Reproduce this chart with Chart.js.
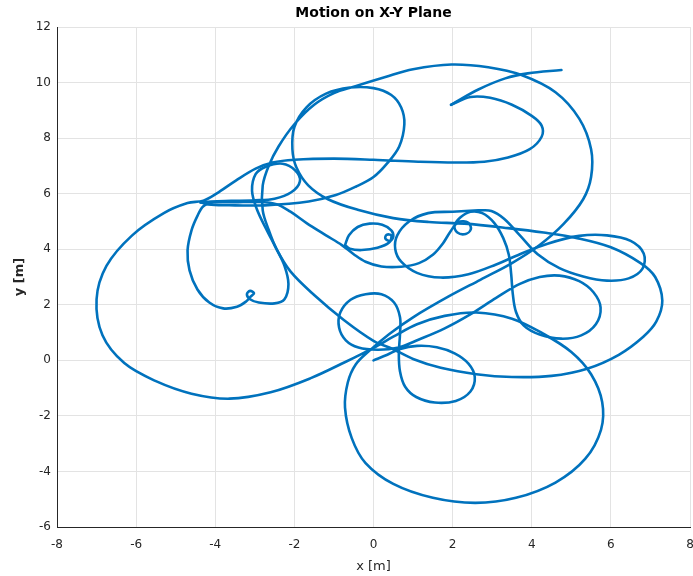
<!DOCTYPE html>
<html>
<head>
<meta charset="utf-8">
<script src="https://cdn.jsdelivr.net/npm/chart.js@4.4.0/dist/chart.umd.min.js"></script>
<style>
  html, body { margin: 0; padding: 0; background: #fff; }
  #wrap { width: 693px; height: 576px; }
</style>
</head>
<body>
<div id="wrap"><canvas id="xy" width="693" height="576"></canvas></div>
<script>
// Trajectoire, découpée en tronçons (x, y en mètres)
const legStart = [
  [0,0],[0.35,0.2],[0.65,0.4],[1.1,0.52],[1.6,0.47],[2.05,0.25],[2.4,-0.12],[2.56,-0.6],
  [2.45,-1.12],[2.08,-1.46],[1.55,-1.52],[1.08,-1.32],[0.8,-0.95],[0.67,-0.4],[0.64,0.25],
  [0.67,0.95],[0.67,1.55],[0.52,2.08],[0.2,2.38],[-0.2,2.38],[-0.58,2.18],[-0.84,1.72],
  [-0.87,1.18],[-0.7,0.72],[-0.38,0.46],[0.1,0.38],[0.6,0.45],[1.15,0.75],[1.8,1.15],
  [2.5,1.7],[3.1,2.25],[3.7,2.75],[4.2,3.0],[4.7,3.05],[5.2,2.85],[5.56,2.45],[5.74,1.9],
  [5.62,1.3],[5.25,0.9],[4.75,0.78],[4.2,0.93],[3.8,1.25],[3.6,1.75],[3.52,2.4],[3.48,3.1],
  [3.42,3.8],[3.28,4.4],[3.05,4.95],[2.75,5.3],[2.45,5.35],[2.2,5.15],[2.05,4.85],[2.12,4.6],
  [2.33,4.55],[2.46,4.72],[2.4,4.95],[2.15,4.98],[1.95,4.65],[1.75,4.2],[1.5,3.8],[1.15,3.5],
  [0.7,3.37],[0.2,3.38],[-0.2,3.55],[-0.5,3.82],[-0.8,4.15],[-1.2,4.5],[-1.7,4.95],[-2.1,5.35],
  [-2.45,5.62],[-2.9,5.7],[-3.5,5.69],[-4.05,5.68],[-4.3,5.55],[-4.45,5.2],[-4.6,4.68],
  [-4.7,3.96],[-4.65,3.24],[-4.45,2.55],[-4.15,2.08],[-3.8,1.87],[-3.45,1.93],[-3.22,2.12],
  [-3.1,2.3],[-3.02,2.42],[-3.12,2.5],[-3.2,2.38],[-3.12,2.2],[-2.9,2.08],[-2.5,2.05],
  [-2.25,2.2],[-2.15,2.75],[-2.25,3.4],[-2.45,4.0],[-2.72,4.75],[-2.95,5.45],[-3.07,6.1],
  [-2.98,6.7],[-2.72,6.97],[-2.3,7.08],[-1.98,6.84],[-1.86,6.45],[-2.08,6.05],[-2.5,5.82],
  [-3.0,5.76],[-3.6,5.74],[-4.1,5.72],[-4.37,5.68]
];
const legMiddle = [
  [-4.37,5.68],[-4.1,5.6],[-3.5,5.58],[-2.75,5.58],[-1.64,5.72],[-0.95,5.95],[-0.45,6.25],
  [0.0,6.6],[0.35,7.1],[0.65,7.7],[0.78,8.5],[0.7,9.1],[0.45,9.55],[0.0,9.8],[-0.6,9.82],
  [-1.2,9.6],[-1.7,9.1],[-2.0,8.4],[-2.05,7.6],[-1.95,6.95],[-1.65,6.3],[-1.15,5.8],
  [-0.4,5.42],[0.5,5.12],[1.4,4.98],[2.3,4.92],[3.4,4.76],[4.3,4.6],[5.15,4.4],[6.0,4.07],
  [6.75,3.5],[7.12,3.0],[7.3,2.15],[7.15,1.4],[6.82,0.85],[6.2,0.2],[5.4,-0.3],[4.5,-0.56],
  [3.5,-0.6],[2.6,-0.5],[1.7,-0.27],[1.0,0.05],[0.5,0.4],[0,0.7],[-0.75,1.45],[-1.5,2.35],
  [-2.1,3.2],[-2.45,4.0],[-2.65,4.7],[-2.8,5.4],[-2.8,6.3],[-2.65,7.0],[-2.4,7.7],[-2.0,8.5],
  [-1.5,9.2],[-1.0,9.62],[-0.5,9.85],[0.3,10.2],[1.0,10.48],[1.97,10.65],[2.9,10.55],
  [3.74,10.27],[4.6,9.65],[5.2,8.7],[5.5,7.6],[5.5,6.6],[5.3,5.8],[4.8,4.9],[4.2,4.15],
  [3.5,3.5],[2.7,2.9],[1.9,2.3],[1.0,1.55],[0.4,0.95],[-0.1,0.35],[-0.45,-0.15],[-0.65,-0.8],
  [-0.72,-1.7],[-0.55,-2.8],[-0.2,-3.7],[0.5,-4.45],[1.5,-4.95],[2.57,-5.13],[3.6,-4.95],
  [4.6,-4.4],[5.35,-3.55],[5.75,-2.5],[5.78,-1.5],[5.5,-0.5],[5.0,0.3],[4.3,0.95],[3.5,1.5],
  [2.6,1.72],[1.8,1.6],[1.1,1.3],[0.5,0.85],[0,0.45],[-0.7,-0.05],[-1.6,-0.65],[-2.6,-1.15],
  [-3.64,-1.38],[-4.6,-1.2],[-5.5,-0.75],[-6.3,-0.1],[-6.85,0.9],[-7.0,2.2],[-6.75,3.4],
  [-6.1,4.5],[-5.3,5.3],[-4.7,5.66],[-4.3,5.75],[-3.97,6.0],[-3.48,6.47],[-2.98,6.9],
  [-2.55,7.12],[-2.0,7.22],[-1.0,7.26],[0,7.22],[1.13,7.15],[2.05,7.12],[2.8,7.15],[3.4,7.3],
  [3.95,7.6],[4.25,8.05],[4.25,8.45],[4.0,8.8],[3.5,9.2],[2.95,9.45],[2.45,9.48],[1.96,9.2]
];
const legEnd = [
  [1.96,9.2],[2.65,9.75],[3.33,10.15],[3.9,10.33],[4.75,10.45]
];
const loopRight = [
  [2.65,5.4],[2.0,5.35],[1.38,5.3],[0.9,5.0],[0.6,4.5],[0.55,4.0],[0.7,3.55],[1.1,3.15],
  [1.7,2.98],[2.4,3.1],[3.1,3.45],[3.7,3.82],[4.4,4.2],[5.2,4.48],[5.9,4.5],[6.5,4.3],
  [6.83,3.85],[6.8,3.3],[6.45,2.95],[5.9,2.87],[5.3,3.02],[4.7,3.32],[4.15,3.82],[3.7,4.5],
  [3.3,5.1],[2.98,5.38],[2.65,5.4]
];
const loopSmall = [
  [-0.72,4.15],[-0.62,4.5],[-0.4,4.8],[-0.1,4.92],[0.22,4.88],[0.45,4.68],[0.5,4.45],
  [0.42,4.3],[0.3,4.38],[0.33,4.52],[0.45,4.5],[0.4,4.25],[0.1,4.05],[-0.3,3.97],[-0.6,4.02],
  [-0.72,4.15]
];

const xTicks = [-8, -6, -4, -2, 0, 2, 4, 6, 8];
const yTicks = [-6, -4, -2, 0, 2, 4, 6, 8, 10, 12];

const bleu = 'rgb(0,114,189)';
const troncons = [legStart, legMiddle, legEnd, loopRight, loopSmall];

const datasets = troncons.map(function (t) {
    return {
        data: t.map(p => ({ x: p[0], y: p[1] })),
        showLine: true,
        borderColor: bleu,
        borderWidth: 2.6,
        pointRadius: 0,
        tension: 0.35,
        borderCapStyle: 'round',
        borderJoinStyle: 'round'
    };
});

const police = 'DejaVu Sans, Liberation Sans, Arial, sans-serif';

new Chart(document.getElementById('xy'), {
    type: 'scatter',
    data: { datasets: datasets },
    options: {
        responsive: false,
        animation: false,
        devicePixelRatio: 1,
        layout: { padding: { left: 0, right: 0, top: 0, bottom: 0 } },
        plugins: {
            legend: { display: false },
            tooltip: { enabled: false },
            title: {
                display: true,
                text: 'Motion on X-Y Plane',
                fullSize: false,
                color: '#000',
                font: { family: police, size: 14, weight: 'bold' },
                padding: { top: 5, bottom: 5.2 }
            }
        },
        scales: {
            x: {
                type: 'linear',
                min: -8, max: 8,
                afterBuildTicks: s => { s.ticks = xTicks.map(v => ({ value: v })); },
                afterFit: s => { s.height = 49; s.paddingRight = 3; s.paddingLeft = 0; },
                ticks: { color: '#262626', font: { family: police, size: 12 }, padding: 11 },
                grid: { color: '#e3e3e3', drawTicks: false },
                border: { display: true, color: '#262626', width: 1 },
                title: { display: true, text: 'x [m]', color: '#262626',
                         font: { family: police, size: 13 }, padding: { top: 0, bottom: 2 } }
            },
            y: {
                type: 'linear',
                min: -6, max: 12,
                afterBuildTicks: s => { s.ticks = yTicks.map(v => ({ value: v })); },
                afterFit: s => { s.width = 57; },
                ticks: { color: '#262626', font: { family: police, size: 12 }, padding: 6 },
                grid: { color: '#e3e3e3', drawTicks: false },
                border: { display: true, color: '#262626', width: 1 },
                title: { display: true, text: 'y [m]', color: '#262626',
                         font: { family: police, size: 13, weight: 'bold' }, padding: { top: 12, bottom: 0 } }
            }
        }
    }
});
</script>
</body>
</html>
